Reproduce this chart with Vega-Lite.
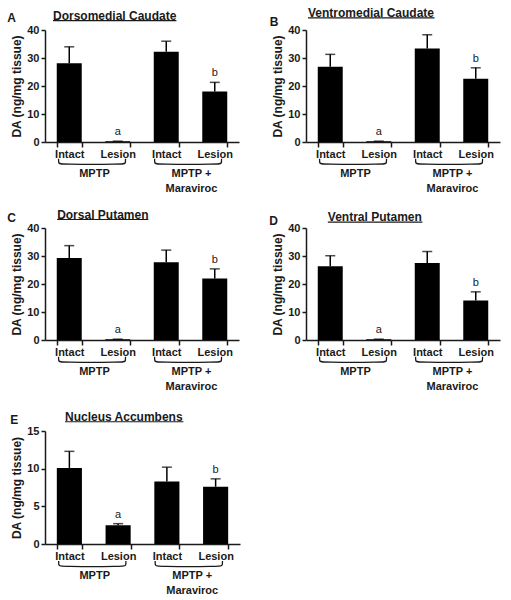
{
"$schema":"https://vega.github.io/schema/vega-lite/v6.json",
"padding":{"left":7,"top":7,"right":5,"bottom":5},
"background":"white",
"datasets":{
"da":[
{"panel":"A","bar":"MPTP|Intact","mean":28.1,"hi":34.0,"sig":""},
{"panel":"A","bar":"MPTP|Lesion","mean":0.3,"hi":0.3,"sig":"a"},
{"panel":"A","bar":"MPTP + Maraviroc|Intact","mean":32.2,"hi":36.0,"sig":""},
{"panel":"A","bar":"MPTP + Maraviroc|Lesion","mean":18.0,"hi":21.3,"sig":"b"},
{"panel":"B","bar":"MPTP|Intact","mean":26.9,"hi":31.3,"sig":""},
{"panel":"B","bar":"MPTP|Lesion","mean":0.3,"hi":0.3,"sig":"a"},
{"panel":"B","bar":"MPTP + Maraviroc|Intact","mean":33.4,"hi":38.3,"sig":""},
{"panel":"B","bar":"MPTP + Maraviroc|Lesion","mean":22.6,"hi":26.5,"sig":"b"},
{"panel":"C","bar":"MPTP|Intact","mean":29.3,"hi":33.7,"sig":""},
{"panel":"C","bar":"MPTP|Lesion","mean":0.3,"hi":0.3,"sig":"a"},
{"panel":"C","bar":"MPTP + Maraviroc|Intact","mean":27.8,"hi":32.1,"sig":""},
{"panel":"C","bar":"MPTP + Maraviroc|Lesion","mean":22.0,"hi":25.4,"sig":"b"},
{"panel":"D","bar":"MPTP|Intact","mean":26.3,"hi":30.1,"sig":""},
{"panel":"D","bar":"MPTP|Lesion","mean":0.3,"hi":0.3,"sig":"a"},
{"panel":"D","bar":"MPTP + Maraviroc|Intact","mean":27.5,"hi":31.6,"sig":""},
{"panel":"D","bar":"MPTP + Maraviroc|Lesion","mean":14.1,"hi":17.2,"sig":"b"},
{"panel":"E","bar":"MPTP|Intact","mean":10.1,"hi":12.3,"sig":""},
{"panel":"E","bar":"MPTP|Lesion","mean":2.5,"hi":2.7,"sig":"a"},
{"panel":"E","bar":"MPTP + Maraviroc|Intact","mean":8.3,"hi":10.2,"sig":""},
{"panel":"E","bar":"MPTP + Maraviroc|Lesion","mean":7.6,"hi":8.65,"sig":"b"}
],
"brackets":[
{"g":"MPTP","i":0,"x":0.28,"y":-0.15},
{"g":"MPTP","i":1,"x":0.28,"y":-0.19},
{"g":"MPTP","i":2,"x":0.31,"y":-0.2},
{"g":"MPTP","i":3,"x":1.63,"y":-0.2},
{"g":"MPTP","i":4,"x":1.66,"y":-0.19},
{"g":"MPTP","i":5,"x":1.66,"y":-0.15},
{"g":"Mar","i":0,"x":2.26,"y":-0.15},
{"g":"Mar","i":1,"x":2.26,"y":-0.19},
{"g":"Mar","i":2,"x":2.29,"y":-0.2},
{"g":"Mar","i":3,"x":3.61,"y":-0.2},
{"g":"Mar","i":4,"x":3.64,"y":-0.19},
{"g":"Mar","i":5,"x":3.64,"y":-0.15}
],
"groups":[
{"x":1.02,"label":"MPTP"},
{"x":3.02,"label":["MPTP +","Maraviroc"]}
]
},
"spacing":13,
"vconcat":[
{"hconcat":[
{"width":194,"height":112,
"layer":[
{"data":{"name":"da"},"transform":[{"filter":"datum.panel==='A'"}],
"encoding":{"x":{"field":"bar","type":"nominal","sort":null,"title":null,"scale":{"paddingInner":0.485,"paddingOuter":0.2425},"axis":{"labelExpr":"split(datum.label,'|')[1]"}}},
"layer":[
{"mark":{"type":"bar","color":"#000"},"encoding":{"y":{"field":"mean","type":"quantitative","title":"DA (ng/mg tissue)","scale":{"domain":[0,40],"nice":false},"axis":{"values":[0,10,20,30,40],"labelOverlap":false}}}},
{"mark":{"type":"rule","color":"#000","strokeWidth":1.5},"encoding":{"y":{"field":"mean","type":"quantitative","title":"DA (ng/mg tissue)","axis":{"values":[0,10,20,30,40],"labelOverlap":false}},"y2":{"field":"hi"}}},
{"mark":{"type":"tick","color":"#000","thickness":1.5,"size":10},"encoding":{"y":{"field":"hi","type":"quantitative","title":"DA (ng/mg tissue)","axis":{"values":[0,10,20,30,40],"labelOverlap":false}}}},
{"transform":[{"filter":"datum.sig!==''"}],"mark":{"type":"text","baseline":"alphabetic","dy":-6,"fontSize":11,"fill":"#1a1a1a"},"encoding":{"y":{"field":"hi","type":"quantitative","title":"DA (ng/mg tissue)","axis":{"values":[0,10,20,30,40],"labelOverlap":false}},"text":{"field":"sig"}}}
]},
{"layer":[
{"data":{"name":"brackets"},"mark":{"type":"line","color":"#1a1a1a","strokeWidth":1.3,"interpolate":"basis"},"encoding":{"x":{"field":"x","type":"quantitative","scale":{"domain":[0,4],"nice":false},"axis":null},"y":{"field":"y","type":"quantitative","scale":{"domain":[0,1],"nice":false},"axis":null},"detail":{"field":"g"},"order":{"field":"i"}}},
{"data":{"name":"groups"},"mark":{"type":"text","fontSize":11,"fontWeight":"bold","baseline":"top","lineHeight":15,"color":"#1a1a1a"},"encoding":{"x":{"field":"x","type":"quantitative"},"y":{"datum":-0.233,"type":"quantitative"},"text":{"field":"label"}}},
{"data":{"values":[{}]},"mark":{"type":"text","fontSize":12,"fontWeight":"bold","align":"left","baseline":"middle","color":"#1a1a1a"},"encoding":{"x":{"datum":0.165,"type":"quantitative"},"y":{"datum":1.125,"type":"quantitative"},"text":{"value":"Dorsomedial Caudate"}}},
{"data":{"values":[{}]},"mark":{"type":"rule","color":"#1a1a1a","strokeWidth":1.2},"encoding":{"x":{"datum":0.165,"type":"quantitative"},"x2":{"datum":2.71},"y":{"datum":1.083,"type":"quantitative"}}},
{"data":{"values":[{}]},"mark":{"type":"text","fontSize":12,"fontWeight":"bold","align":"center","baseline":"middle","color":"#1a1a1a"},"encoding":{"x":{"datum":-0.69,"type":"quantitative"},"y":{"datum":1.107,"type":"quantitative"},"text":{"value":"A"}}}
]}
],
"resolve":{"scale":{"x":"independent","y":"independent"}}
},
{"width":194,"height":112,
"layer":[
{"data":{"name":"da"},"transform":[{"filter":"datum.panel==='B'"}],
"encoding":{"x":{"field":"bar","type":"nominal","sort":null,"title":null,"scale":{"paddingInner":0.485,"paddingOuter":0.2425},"axis":{"labelExpr":"split(datum.label,'|')[1]"}}},
"layer":[
{"mark":{"type":"bar","color":"#000"},"encoding":{"y":{"field":"mean","type":"quantitative","title":"DA (ng/mg tissue)","scale":{"domain":[0,40],"nice":false},"axis":{"values":[0,10,20,30,40],"labelOverlap":false}}}},
{"mark":{"type":"rule","color":"#000","strokeWidth":1.5},"encoding":{"y":{"field":"mean","type":"quantitative","title":"DA (ng/mg tissue)","axis":{"values":[0,10,20,30,40],"labelOverlap":false}},"y2":{"field":"hi"}}},
{"mark":{"type":"tick","color":"#000","thickness":1.5,"size":10},"encoding":{"y":{"field":"hi","type":"quantitative","title":"DA (ng/mg tissue)","axis":{"values":[0,10,20,30,40],"labelOverlap":false}}}},
{"transform":[{"filter":"datum.sig!==''"}],"mark":{"type":"text","baseline":"alphabetic","dy":-6,"fontSize":11,"fill":"#1a1a1a"},"encoding":{"y":{"field":"hi","type":"quantitative","title":"DA (ng/mg tissue)","axis":{"values":[0,10,20,30,40],"labelOverlap":false}},"text":{"field":"sig"}}}
]},
{"layer":[
{"data":{"name":"brackets"},"mark":{"type":"line","color":"#1a1a1a","strokeWidth":1.3,"interpolate":"basis"},"encoding":{"x":{"field":"x","type":"quantitative","scale":{"domain":[0,4],"nice":false},"axis":null},"y":{"field":"y","type":"quantitative","scale":{"domain":[0,1],"nice":false},"axis":null},"detail":{"field":"g"},"order":{"field":"i"}}},
{"data":{"name":"groups"},"mark":{"type":"text","fontSize":11,"fontWeight":"bold","baseline":"top","lineHeight":15,"color":"#1a1a1a"},"encoding":{"x":{"field":"x","type":"quantitative"},"y":{"datum":-0.233,"type":"quantitative"},"text":{"field":"label"}}},
{"data":{"values":[{}]},"mark":{"type":"text","fontSize":12,"fontWeight":"bold","align":"left","baseline":"middle","color":"#1a1a1a"},"encoding":{"x":{"datum":0.04,"type":"quantitative"},"y":{"datum":1.151,"type":"quantitative"},"text":{"value":"Ventromedial Caudate"}}},
{"data":{"values":[{}]},"mark":{"type":"rule","color":"#1a1a1a","strokeWidth":1.2},"encoding":{"x":{"datum":0.04,"type":"quantitative"},"x2":{"datum":2.65},"y":{"datum":1.109,"type":"quantitative"}}},
{"data":{"values":[{}]},"mark":{"type":"text","fontSize":12,"fontWeight":"bold","align":"center","baseline":"middle","color":"#1a1a1a"},"encoding":{"x":{"datum":-0.66,"type":"quantitative"},"y":{"datum":1.071,"type":"quantitative"},"text":{"value":"B"}}}
]}
],
"resolve":{"scale":{"x":"independent","y":"independent"}}
}
],"spacing":30},
{"vconcat":[
{"hconcat":[
{"width":194,"height":112,
"layer":[
{"data":{"name":"da"},"transform":[{"filter":"datum.panel==='C'"}],
"encoding":{"x":{"field":"bar","type":"nominal","sort":null,"title":null,"scale":{"paddingInner":0.485,"paddingOuter":0.2425},"axis":{"labelExpr":"split(datum.label,'|')[1]"}}},
"layer":[
{"mark":{"type":"bar","color":"#000"},"encoding":{"y":{"field":"mean","type":"quantitative","title":"DA (ng/mg tissue)","scale":{"domain":[0,40],"nice":false},"axis":{"values":[0,10,20,30,40],"labelOverlap":false}}}},
{"mark":{"type":"rule","color":"#000","strokeWidth":1.5},"encoding":{"y":{"field":"mean","type":"quantitative","title":"DA (ng/mg tissue)","axis":{"values":[0,10,20,30,40],"labelOverlap":false}},"y2":{"field":"hi"}}},
{"mark":{"type":"tick","color":"#000","thickness":1.5,"size":10},"encoding":{"y":{"field":"hi","type":"quantitative","title":"DA (ng/mg tissue)","axis":{"values":[0,10,20,30,40],"labelOverlap":false}}}},
{"transform":[{"filter":"datum.sig!==''"}],"mark":{"type":"text","baseline":"alphabetic","dy":-6,"fontSize":11,"fill":"#1a1a1a"},"encoding":{"y":{"field":"hi","type":"quantitative","title":"DA (ng/mg tissue)","axis":{"values":[0,10,20,30,40],"labelOverlap":false}},"text":{"field":"sig"}}}
]},
{"layer":[
{"data":{"name":"brackets"},"mark":{"type":"line","color":"#1a1a1a","strokeWidth":1.3,"interpolate":"basis"},"encoding":{"x":{"field":"x","type":"quantitative","scale":{"domain":[0,4],"nice":false},"axis":null},"y":{"field":"y","type":"quantitative","scale":{"domain":[0,1],"nice":false},"axis":null},"detail":{"field":"g"},"order":{"field":"i"}}},
{"data":{"name":"groups"},"mark":{"type":"text","fontSize":11,"fontWeight":"bold","baseline":"top","lineHeight":15,"color":"#1a1a1a"},"encoding":{"x":{"field":"x","type":"quantitative"},"y":{"datum":-0.233,"type":"quantitative"},"text":{"field":"label"}}},
{"data":{"values":[{}]},"mark":{"type":"text","fontSize":12,"fontWeight":"bold","align":"left","baseline":"middle","color":"#1a1a1a"},"encoding":{"x":{"datum":0.25,"type":"quantitative"},"y":{"datum":1.118,"type":"quantitative"},"text":{"value":"Dorsal Putamen"}}},
{"data":{"values":[{}]},"mark":{"type":"rule","color":"#1a1a1a","strokeWidth":1.2},"encoding":{"x":{"datum":0.25,"type":"quantitative"},"x2":{"datum":2.13},"y":{"datum":1.076,"type":"quantitative"}}},
{"data":{"values":[{}]},"mark":{"type":"text","fontSize":12,"fontWeight":"bold","align":"center","baseline":"middle","color":"#1a1a1a"},"encoding":{"x":{"datum":-0.69,"type":"quantitative"},"y":{"datum":1.086,"type":"quantitative"},"text":{"value":"C"}}}
]}
],
"resolve":{"scale":{"x":"independent","y":"independent"}}
},
{"width":194,"height":112,
"layer":[
{"data":{"name":"da"},"transform":[{"filter":"datum.panel==='D'"}],
"encoding":{"x":{"field":"bar","type":"nominal","sort":null,"title":null,"scale":{"paddingInner":0.485,"paddingOuter":0.2425},"axis":{"labelExpr":"split(datum.label,'|')[1]"}}},
"layer":[
{"mark":{"type":"bar","color":"#000"},"encoding":{"y":{"field":"mean","type":"quantitative","title":"DA (ng/mg tissue)","scale":{"domain":[0,40],"nice":false},"axis":{"values":[0,10,20,30,40],"labelOverlap":false}}}},
{"mark":{"type":"rule","color":"#000","strokeWidth":1.5},"encoding":{"y":{"field":"mean","type":"quantitative","title":"DA (ng/mg tissue)","axis":{"values":[0,10,20,30,40],"labelOverlap":false}},"y2":{"field":"hi"}}},
{"mark":{"type":"tick","color":"#000","thickness":1.5,"size":10},"encoding":{"y":{"field":"hi","type":"quantitative","title":"DA (ng/mg tissue)","axis":{"values":[0,10,20,30,40],"labelOverlap":false}}}},
{"transform":[{"filter":"datum.sig!==''"}],"mark":{"type":"text","baseline":"alphabetic","dy":-6,"fontSize":11,"fill":"#1a1a1a"},"encoding":{"y":{"field":"hi","type":"quantitative","title":"DA (ng/mg tissue)","axis":{"values":[0,10,20,30,40],"labelOverlap":false}},"text":{"field":"sig"}}}
]},
{"layer":[
{"data":{"name":"brackets"},"mark":{"type":"line","color":"#1a1a1a","strokeWidth":1.3,"interpolate":"basis"},"encoding":{"x":{"field":"x","type":"quantitative","scale":{"domain":[0,4],"nice":false},"axis":null},"y":{"field":"y","type":"quantitative","scale":{"domain":[0,1],"nice":false},"axis":null},"detail":{"field":"g"},"order":{"field":"i"}}},
{"data":{"name":"groups"},"mark":{"type":"text","fontSize":11,"fontWeight":"bold","baseline":"top","lineHeight":15,"color":"#1a1a1a"},"encoding":{"x":{"field":"x","type":"quantitative"},"y":{"datum":-0.233,"type":"quantitative"},"text":{"field":"label"}}},
{"data":{"values":[{}]},"mark":{"type":"text","fontSize":12,"fontWeight":"bold","align":"left","baseline":"middle","color":"#1a1a1a"},"encoding":{"x":{"datum":0.45,"type":"quantitative"},"y":{"datum":1.095,"type":"quantitative"},"text":{"value":"Ventral Putamen"}}},
{"data":{"values":[{}]},"mark":{"type":"rule","color":"#1a1a1a","strokeWidth":1.2},"encoding":{"x":{"datum":0.45,"type":"quantitative"},"x2":{"datum":2.4},"y":{"datum":1.053,"type":"quantitative"}}},
{"data":{"values":[{}]},"mark":{"type":"text","fontSize":12,"fontWeight":"bold","align":"center","baseline":"middle","color":"#1a1a1a"},"encoding":{"x":{"datum":-0.67,"type":"quantitative"},"y":{"datum":1.064,"type":"quantitative"},"text":{"value":"D"}}}
]}
],
"resolve":{"scale":{"x":"independent","y":"independent"}}
}
],"spacing":30},
{"width":195,"height":113,
"layer":[
{"data":{"name":"da"},"transform":[{"filter":"datum.panel==='E'"}],
"encoding":{"x":{"field":"bar","type":"nominal","sort":null,"title":null,"scale":{"paddingInner":0.485,"paddingOuter":0.2425},"axis":{"labelExpr":"split(datum.label,'|')[1]"}}},
"layer":[
{"mark":{"type":"bar","color":"#000"},"encoding":{"y":{"field":"mean","type":"quantitative","title":"DA (ng/mg tissue)","scale":{"domain":[0,15],"nice":false},"axis":{"values":[0,5,10,15],"labelOverlap":false}}}},
{"mark":{"type":"rule","color":"#000","strokeWidth":1.5},"encoding":{"y":{"field":"mean","type":"quantitative","title":"DA (ng/mg tissue)","axis":{"values":[0,5,10,15],"labelOverlap":false}},"y2":{"field":"hi"}}},
{"mark":{"type":"tick","color":"#000","thickness":1.5,"size":10},"encoding":{"y":{"field":"hi","type":"quantitative","title":"DA (ng/mg tissue)","axis":{"values":[0,5,10,15],"labelOverlap":false}}}},
{"transform":[{"filter":"datum.sig!==''"}],"mark":{"type":"text","baseline":"alphabetic","dy":-6,"fontSize":11,"fill":"#1a1a1a"},"encoding":{"y":{"field":"hi","type":"quantitative","title":"DA (ng/mg tissue)","axis":{"values":[0,5,10,15],"labelOverlap":false}},"text":{"field":"sig"}}}
]},
{"layer":[
{"data":{"name":"brackets"},"mark":{"type":"line","color":"#1a1a1a","strokeWidth":1.3,"interpolate":"basis"},"encoding":{"x":{"field":"x","type":"quantitative","scale":{"domain":[0,4],"nice":false},"axis":null},"y":{"field":"y","type":"quantitative","scale":{"domain":[0,1],"nice":false},"axis":null},"detail":{"field":"g"},"order":{"field":"i"}}},
{"data":{"name":"groups"},"mark":{"type":"text","fontSize":11,"fontWeight":"bold","baseline":"top","lineHeight":15,"color":"#1a1a1a"},"encoding":{"x":{"field":"x","type":"quantitative"},"y":{"datum":-0.233,"type":"quantitative"},"text":{"field":"label"}}},
{"data":{"values":[{}]},"mark":{"type":"text","fontSize":12,"fontWeight":"bold","align":"left","baseline":"middle","color":"#1a1a1a"},"encoding":{"x":{"datum":0.41,"type":"quantitative"},"y":{"datum":1.124,"type":"quantitative"},"text":{"value":"Nucleus Accumbens"}}},
{"data":{"values":[{}]},"mark":{"type":"rule","color":"#1a1a1a","strokeWidth":1.2},"encoding":{"x":{"datum":0.41,"type":"quantitative"},"x2":{"datum":2.84},"y":{"datum":1.082,"type":"quantitative"}}},
{"data":{"values":[{}]},"mark":{"type":"text","fontSize":12,"fontWeight":"bold","align":"center","baseline":"middle","color":"#1a1a1a"},"encoding":{"x":{"datum":-0.63,"type":"quantitative"},"y":{"datum":1.1,"type":"quantitative"},"text":{"value":"E"}}}
]}
],
"resolve":{"scale":{"x":"independent","y":"independent"}}
}
],"spacing":17}
],
"config":{
"view":{"stroke":null},
"font":"Liberation Sans",
"text":{"font":"Liberation Sans"},
"axis":{"grid":false,"domainColor":"#1a1a1a","tickColor":"#1a1a1a","labelColor":"#1a1a1a","titleColor":"#1a1a1a","domainWidth":1.5,"tickWidth":1.5,"labelFont":"Liberation Sans","titleFont":"Liberation Sans"},
"axisY":{"labelFontSize":11,"labelFontWeight":"bold","titleFontSize":12,"titleFontWeight":"bold","tickSize":4,"titlePadding":3,"labelPadding":2},
"axisX":{"labelAngle":0,"labelFontSize":11,"labelFontWeight":"bold","tickSize":5,"tickBand":"extent","labelPadding":1}
}
}
